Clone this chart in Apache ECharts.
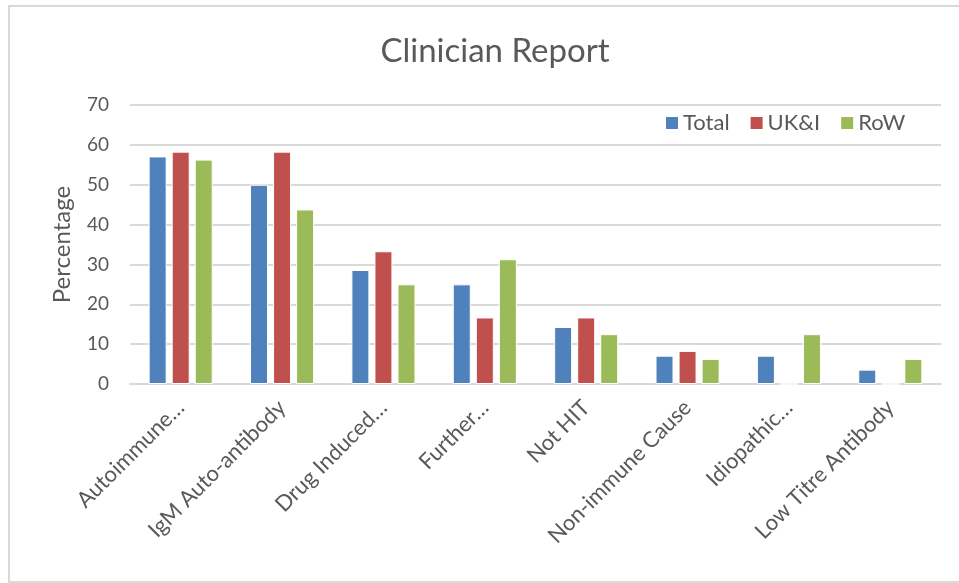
<!DOCTYPE html>
<html>
<head>
<meta charset="utf-8">
<script src="https://cdn.jsdelivr.net/npm/echarts@6/dist/echarts.min.js"></script>
<style>
  html, body { margin: 0; padding: 0; background: #ffffff; }
  #chart { width: 959px; height: 583px; }
</style>
</head>
<body>
<div id="chart"></div>
<script>
// Clinician report outcomes, percentage of cases per group
const categories = [
  'Autoimmune\u2026', 'IgM Auto-antibody', 'Drug Induced\u2026', 'Further\u2026',
  'Not HIT', 'Non-immune Cause', 'Idiopathic\u2026', 'Low Titre Antibody'
];
const totalValues = [57.1, 50.0, 28.6, 25.0, 14.3, 7.1, 7.1, 3.6];
const ukiValues   = [58.3, 58.3, 33.3, 16.7, 16.7, 8.3, 0, 0];
const rowValues   = [56.3, 43.8, 25.0, 31.3, 12.5, 6.3, 12.5, 6.3];
const seriesNames = ['Total', 'UK&I', 'RoW'];
const yTicks = { min: 0, max: 70, step: 10 };

const FONT = 'Lato, "Open Sans", sans-serif';
const TEXT = '#595959';

const chart = echarts.init(document.getElementById('chart'), null, { renderer: 'canvas' });

function barSeries(name, data, color) {
  return {
    name: name,
    type: 'bar',
    data: data,
    barWidth: 18,
    barGap: '28%',
    itemStyle: { color: color, borderColor: '#ffffff', borderWidth: 1 }
  };
}

chart.setOption({
  animation: false,
  backgroundColor: '#ffffff',
  textStyle: { fontFamily: FONT },
  graphic: [{
    type: 'rect',
    shape: { x: 9, y: 6, width: 960, height: 576 },
    style: { fill: 'none', stroke: '#d9d9d9', lineWidth: 2 },
    silent: true
  }],
  title: {
    text: 'Clinician Report',
    left: 490,
    textAlign: 'center',
    top: 30,
    textStyle: { fontFamily: FONT, fontSize: 33, fontWeight: 'normal', color: TEXT }
  },
  legend: {
    data: seriesNames,
    left: 664,
    top: 112,
    padding: 0,
    icon: 'rect',
    itemWidth: 14,
    itemHeight: 14,
    itemGap: 19,
    textStyle: { fontFamily: FONT, fontSize: 22, color: TEXT, padding: [0, 0, 0, -1] }
  },
  grid: { left: 130, right: 18, top: 105, bottom: 199, containLabel: false },
  xAxis: {
    type: 'category',
    data: categories,
    axisLine: { lineStyle: { color: '#d9d9d9', width: 2 } },
    axisTick: { show: false },
    axisLabel: {
      rotate: 45,
      interval: 0,
      margin: 20,
      fontFamily: FONT,
      fontSize: 22,
      color: TEXT
    }
  },
  yAxis: {
    type: 'value',
    min: yTicks.min,
    max: yTicks.max,
    interval: yTicks.step,
    name: 'Percentage',
    nameLocation: 'middle',
    nameGap: 56,
    nameRotate: 90,
    nameTextStyle: { fontFamily: FONT, fontSize: 24, color: TEXT },
    axisLine: { show: false },
    axisTick: { show: false },
    splitLine: { lineStyle: { color: '#d9d9d9', width: 2 } },
    axisLabel: { margin: 21, fontFamily: FONT, fontSize: 19, color: TEXT }
  },
  series: [
    barSeries(seriesNames[0], totalValues, '#4f81bd'),
    barSeries(seriesNames[1], ukiValues, '#c0504d'),
    barSeries(seriesNames[2], rowValues, '#9bbb59')
  ]
});
</script>
</body>
</html>
